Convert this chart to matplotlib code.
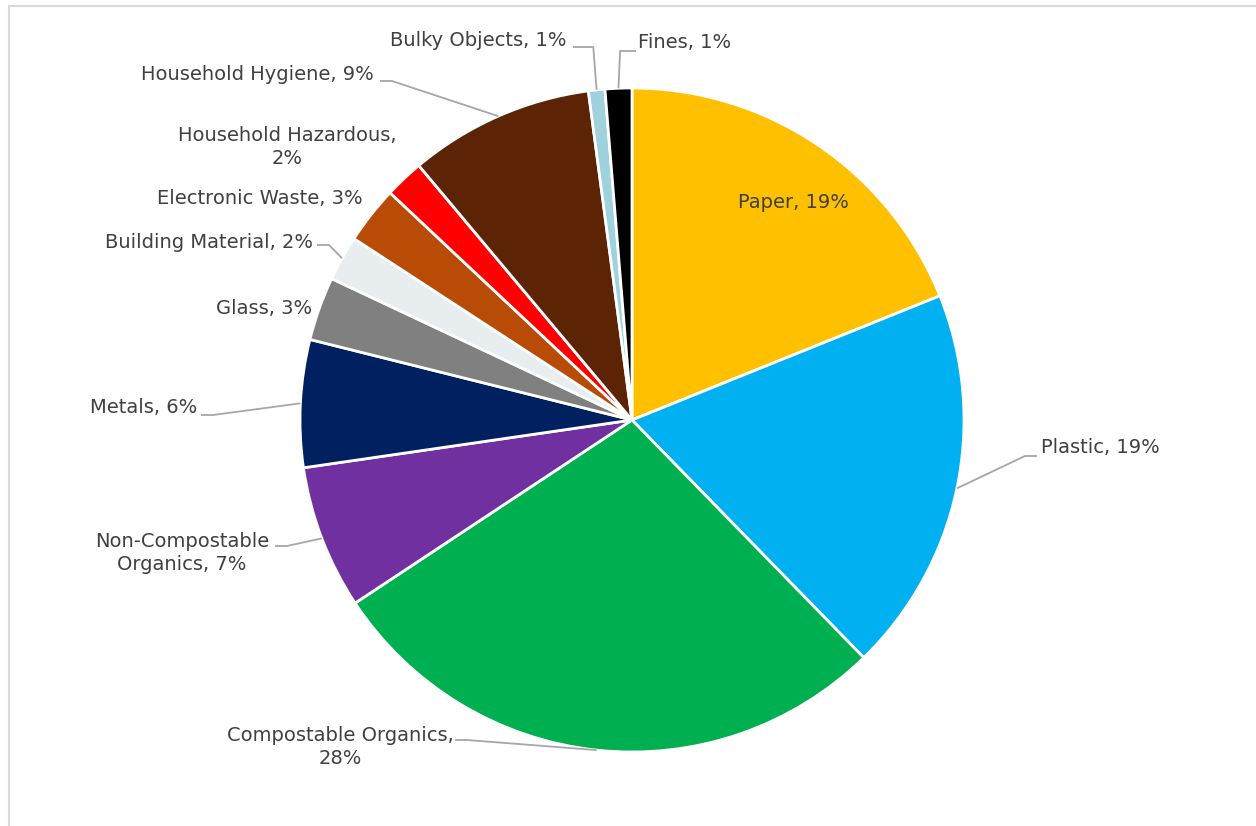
import numpy as np
import matplotlib.pyplot as plt
from matplotlib.patches import Rectangle

categories = ["Paper", "Plastic", "Compostable Organics", "Non-Compostable Organics",
              "Metals", "Glass", "Building Material", "Electronic Waste",
              "Household Hazardous", "Household Hygiene", "Bulky Objects", "Fines"]
shares = [18.9, 18.8, 28.0, 7.0, 6.2, 3.1, 2.2, 2.8, 1.9, 9.0, 0.8, 1.3]
label_text = ["Paper, {}%", "Plastic, {}%", "Compostable Organics,\n{}%",
              "Non-Compostable\nOrganics, {}%", "Metals, {}%", "Glass, {}%",
              "Building Material, {}%", "Electronic Waste, {}%",
              "Household Hazardous,\n{}%", "Household Hygiene, {}%",
              "Bulky Objects, {}%", "Fines, {}%"]
colors = ["#FFC000", "#00B0F0", "#00B050", "#7030A0", "#002060", "#808080",
          "#E8EDF0", "#B84C07", "#FF0000", "#5C2404", "#9FD2DD", "#000000"]

# label placement in pixels (x, y, ha, leader)
W, H = 1256, 826
CX, CY, R = 632, 420, 332
label_pos = [(793, 203, "center", False), (1041, 448, "left", True),
             (340, 747, "center", True), (182, 553, "center", True),
             (197, 408, "right", True), (312, 309, "right", False),
             (313, 242, "right", True), (363, 199, "right", False),
             (287, 147, "center", False), (374, 74, "right", True),
             (567, 41, "right", True), (638, 43, "left", True)]
# where the leader meets the label (pixels)
leader_end = {1: (1037, 456), 2: (455, 740), 3: (275, 546), 4: (201, 415),
              6: (317, 245), 9: (380, 81), 10: (573, 47), 11: (636, 51)}


def px(x, y):
    return (x - CX) / R, (CY - y) / R


plt.rcParams['font.family'] = ['Liberation Sans Narrow', 'DejaVu Sans']
fig = plt.figure(figsize=(W / 100, H / 100), dpi=100)
ax = fig.add_axes([0, 0, 1, 1])
wedges, _ = ax.pie(shares, colors=colors, startangle=90, counterclock=False,
                   radius=1.0, wedgeprops=dict(edgecolor="white", linewidth=2.0))
ax.set_xlim(-CX / R, (W - CX) / R)
ax.set_ylim(-(H - CY) / R, CY / R)
ax.axis("off")

for i, w in enumerate(wedges):
    txt = label_text[i].format(round(shares[i]))
    x, y, ha, lead = label_pos[i]
    tx, ty = px(x, y)
    ax.text(tx, ty, txt, ha=ha, va="center", fontsize=14, color="#404040",
            linespacing=1.25)
    if lead:
        mid = np.deg2rad((w.theta1 + w.theta2) / 2)
        sx, sy = np.cos(mid), np.sin(mid)
        ex, ey = px(*leader_end[i])
        step = 12 / R if ex > sx else -12 / R
        if i in (10, 11):
            # short labels above the pie: vertical then horizontal
            kx, ky = sx - 0.01 if i == 10 else sx + 0.005, ey
        else:
            kx, ky = ex - step, ey
        ax.plot([sx, kx, ex], [sy, ky, ey], color="#A6A6A6", lw=1.3,
                solid_capstyle="butt")

fig.patches.append(Rectangle((9 / W, -0.1), 1.2, (H - 6) / H + 0.1,
                             transform=fig.transFigure, fill=False,
                             edgecolor="#D9D9D9", lw=1.5))
fig.savefig("out.png", dpi=100)
